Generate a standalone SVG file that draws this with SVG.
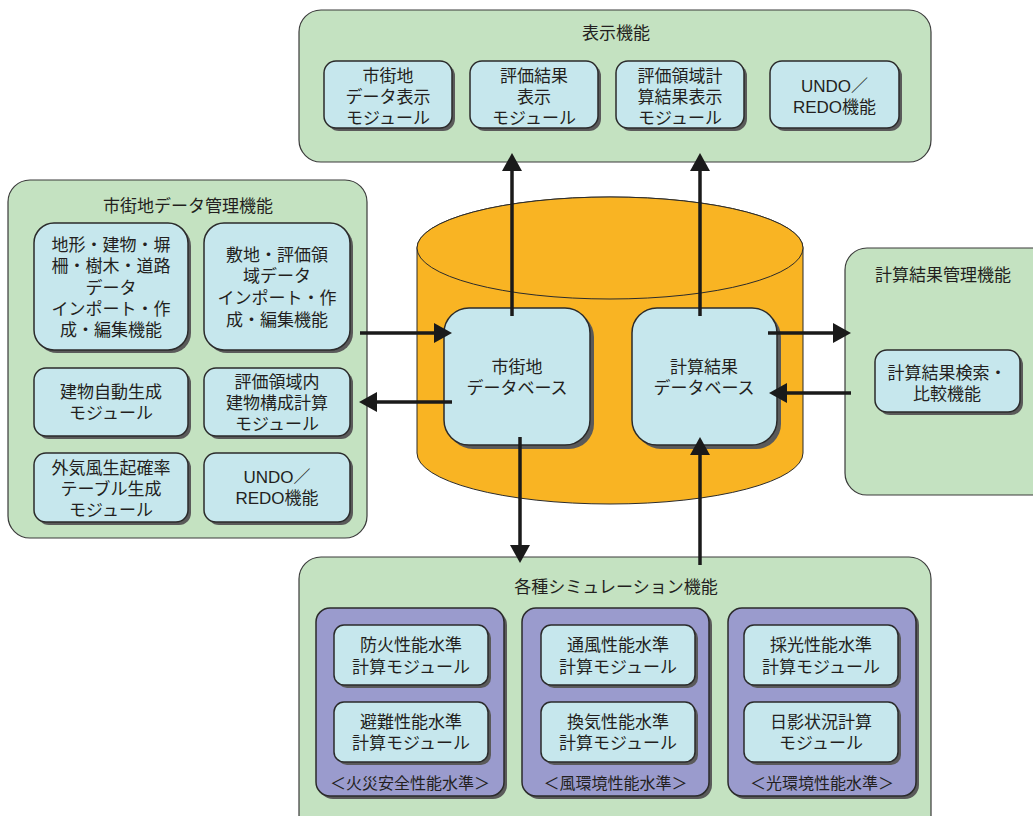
<svg xmlns="http://www.w3.org/2000/svg" width="1033" height="816" viewBox="0 0 1033 816">
<defs>
<style>
text{font-family:"Liberation Sans","Noto Sans CJK JP",sans-serif;font-size:17px;fill:#231f20;text-anchor:middle;dominant-baseline:central}
.grp{fill:#c4e2c1;stroke:#3a3a3a;stroke-width:1.2}
.box{fill:#c6e7ed;stroke:#2b2b2b;stroke-width:1.5}
.pur{fill:#9a9bcd;stroke:#2b2b2b;stroke-width:1.5}
.sh{fill:#5a5a5a}
.cyl{fill:#f9b423;stroke:#2b2b2b;stroke-width:1}
.con{stroke:#1a1a1a;stroke-width:3.5;fill:none;marker-end:url(#ah)}
.lbl{font-size:16px}
</style>
<marker id="ah" markerUnits="userSpaceOnUse" markerWidth="18" markerHeight="20" refX="8" refY="10" orient="auto">
<path d="M0,0 L18,10 L0,20 Z" fill="#1a1a1a"/>
</marker>
</defs>
<rect width="1033" height="816" fill="#ffffff"/>

<g id="display-group">
<rect class="grp" x="299" y="10" width="632" height="152" rx="22"/>
<text x="616" y="33">表示機能</text>
<g id="disp-city">
<rect class="sh" x="327" y="64" width="128" height="67" rx="12"/>
<rect class="box" x="324" y="61" width="128" height="67" rx="12"/>
<text x="388" y="76.5">市街地</text><text x="388" y="97.5">データ表示</text><text x="388" y="118">モジュール</text>
</g>
<g id="disp-eval">
<rect class="sh" x="473" y="64" width="128" height="67" rx="12"/>
<rect class="box" x="470" y="61" width="128" height="67" rx="12"/>
<text x="534" y="76.5">評価結果</text><text x="534" y="97.5">表示</text><text x="534" y="118">モジュール</text>
</g>
<g id="disp-area">
<rect class="sh" x="619" y="64" width="128" height="67" rx="12"/>
<rect class="box" x="616" y="61" width="128" height="67" rx="12"/>
<text x="680" y="76.5">評価領域計</text><text x="680" y="97.5">算結果表示</text><text x="680" y="118">モジュール</text>
</g>
<g id="disp-undo">
<rect class="sh" x="773" y="64" width="129" height="67" rx="12"/>
<rect class="box" x="770" y="61" width="129" height="67" rx="12"/>
<text x="834.5" y="86">UNDO／</text><text x="834.5" y="107">REDO機能</text>
</g>
</g>

<g id="citydata-group">
<rect class="grp" x="8" y="180" width="359" height="358" rx="22"/>
<text x="188" y="206">市街地データ管理機能</text>
<g id="cd-terrain">
<rect class="sh" x="37" y="226" width="154" height="127" rx="20"/>
<rect class="box" x="34" y="223" width="154" height="127" rx="20"/>
<text x="111" y="245">地形・建物・塀</text><text x="111" y="266">柵・樹木・道路</text><text x="111" y="288">データ</text><text x="111" y="309">インポート・作</text><text x="111" y="330">成・編集機能</text>
</g>
<g id="cd-site">
<rect class="sh" x="207" y="226" width="146" height="127" rx="20"/>
<rect class="box" x="204" y="223" width="146" height="127" rx="20"/>
<text x="277" y="255">敷地・評価領</text><text x="277" y="276">域データ</text><text x="277" y="298">インポート・作</text><text x="277" y="320">成・編集機能</text>
</g>
<g id="cd-autogen">
<rect class="sh" x="37" y="371" width="154" height="68" rx="12"/>
<rect class="box" x="34" y="368" width="154" height="68" rx="12"/>
<text x="111" y="392">建物自動生成</text><text x="111" y="413">モジュール</text>
</g>
<g id="cd-compose">
<rect class="sh" x="207" y="371" width="146" height="68" rx="12"/>
<rect class="box" x="204" y="368" width="146" height="68" rx="12"/>
<text x="277" y="382">評価領域内</text><text x="277" y="403">建物構成計算</text><text x="277" y="424">モジュール</text>
</g>
<g id="cd-wind">
<rect class="sh" x="37" y="456" width="154" height="69" rx="12"/>
<rect class="box" x="34" y="453" width="154" height="69" rx="12"/>
<text x="111" y="468">外気風生起確率</text><text x="111" y="489">テーブル生成</text><text x="111" y="510">モジュール</text>
</g>
<g id="cd-undo">
<rect class="sh" x="207" y="456" width="146" height="69" rx="12"/>
<rect class="box" x="204" y="453" width="146" height="69" rx="12"/>
<text x="277" y="477">UNDO／</text><text x="277" y="498">REDO機能</text>
</g>
</g>

<g id="result-group">
<rect class="grp" x="845" y="248" width="215" height="247" rx="22"/>
<text x="943" y="275">計算結果管理機能</text>
<g id="res-search">
<rect class="sh" x="878" y="353" width="145" height="62" rx="12"/>
<rect class="box" x="875" y="350" width="145" height="62" rx="12"/>
<text x="947" y="373">計算結果検索・</text><text x="947" y="394">比較機能</text>
</g>
</g>

<g id="sim-group">
<rect class="grp" x="299" y="557" width="632" height="290" rx="22"/>
<text x="616" y="587">各種シミュレーション機能</text>
<g id="sim-fire">
<rect class="sh" x="319" y="611" width="188" height="188" rx="14"/>
<rect class="pur" x="316" y="608" width="188" height="188" rx="14"/>
<g id="sim-fire1">
<rect class="sh" x="337" y="628" width="154" height="60" rx="10"/>
<rect class="box" x="334" y="625" width="154" height="60" rx="10"/>
<text x="411" y="645">防火性能水準</text><text x="411" y="667">計算モジュール</text>
</g>
<g id="sim-fire2">
<rect class="sh" x="337" y="705" width="154" height="60" rx="10"/>
<rect class="box" x="334" y="702" width="154" height="60" rx="10"/>
<text x="411" y="722">避難性能水準</text><text x="411" y="743">計算モジュール</text>
</g>
<text class="lbl" x="410" y="783">＜火災安全性能水準＞</text>
</g>
<g id="sim-wind">
<rect class="sh" x="525" y="611" width="187" height="188" rx="14"/>
<rect class="pur" x="522" y="608" width="187" height="188" rx="14"/>
<g id="sim-wind1">
<rect class="sh" x="544" y="628" width="154" height="60" rx="10"/>
<rect class="box" x="541" y="625" width="154" height="60" rx="10"/>
<text x="618" y="645">通風性能水準</text><text x="618" y="667">計算モジュール</text>
</g>
<g id="sim-wind2">
<rect class="sh" x="544" y="705" width="154" height="60" rx="10"/>
<rect class="box" x="541" y="702" width="154" height="60" rx="10"/>
<text x="618" y="722">換気性能水準</text><text x="618" y="743">計算モジュール</text>
</g>
<text class="lbl" x="615.5" y="783">＜風環境性能水準＞</text>
</g>
<g id="sim-light">
<rect class="sh" x="731" y="611" width="188" height="188" rx="14"/>
<rect class="pur" x="728" y="608" width="188" height="188" rx="14"/>
<g id="sim-light1">
<rect class="sh" x="747" y="628" width="154" height="60" rx="10"/>
<rect class="box" x="744" y="625" width="154" height="60" rx="10"/>
<text x="821" y="645">採光性能水準</text><text x="821" y="667">計算モジュール</text>
</g>
<g id="sim-light2">
<rect class="sh" x="747" y="705" width="154" height="60" rx="10"/>
<rect class="box" x="744" y="702" width="154" height="60" rx="10"/>
<text x="821" y="722">日影状況計算</text><text x="821" y="743">モジュール</text>
</g>
<text class="lbl" x="822" y="783">＜光環境性能水準＞</text>
</g>
</g>

<g id="database">
<path class="cyl" d="M417,248 L417,453 A193,51 0 0 0 803,453 L803,248 A193,51 0 0 0 417,248 Z"/>
<ellipse class="cyl" cx="610" cy="248" rx="193" ry="51"/>
<g id="db-city">
<rect class="sh" x="448" y="312" width="146" height="137" rx="25"/>
<rect class="box" x="444" y="308" width="146" height="137" rx="25"/>
<text x="517" y="367">市街地</text><text x="517" y="388">データベース</text>
</g>
<g id="db-result">
<rect class="sh" x="636" y="312" width="145" height="137" rx="25"/>
<rect class="box" x="632" y="308" width="145" height="137" rx="25"/>
<text x="704" y="367">計算結果</text><text x="704" y="388">データベース</text>
</g>
</g>

<g id="connectors">
<line class="con" x1="512" y1="316" x2="512" y2="163"/>
<line class="con" x1="700" y1="316" x2="700" y2="163"/>
<line class="con" x1="360" y1="333" x2="442" y2="333"/>
<line class="con" x1="452" y1="402" x2="369" y2="402"/>
<line class="con" x1="520" y1="437" x2="520" y2="553"/>
<line class="con" x1="700" y1="565" x2="700" y2="447"/>
<line class="con" x1="768" y1="333" x2="841" y2="333"/>
<line class="con" x1="851" y1="393" x2="779" y2="393"/>
</g>
</svg>
